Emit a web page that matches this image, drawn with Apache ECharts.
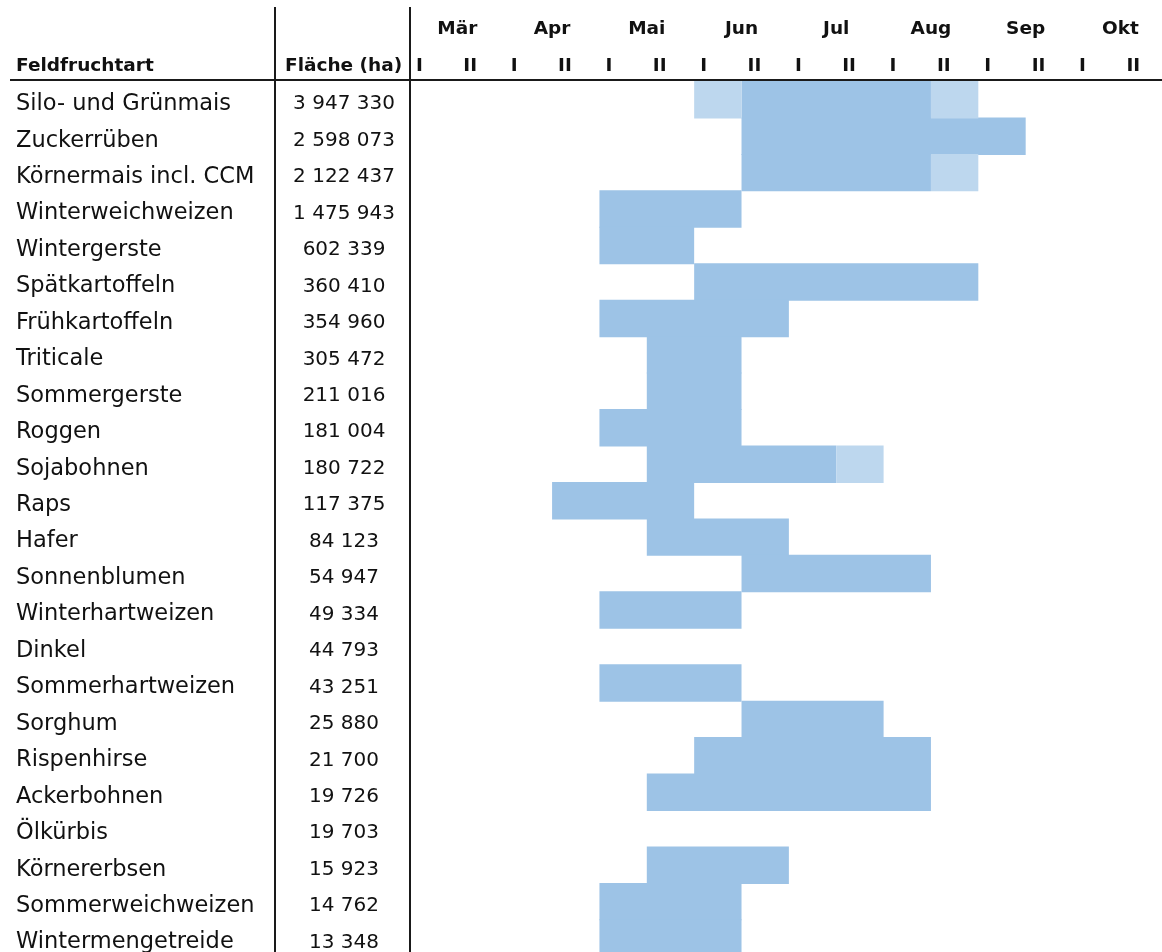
<!DOCTYPE html>
<html lang="de">
<head>
<meta charset="utf-8">
<title>Erntezeiträume der Feldfruchtarten</title>
<script src="https://cdn.jsdelivr.net/npm/echarts@6/dist/echarts.min.js"></script>
<style>
  html, body { margin: 0; padding: 0; background: #ffffff; }
  #chart { width: 1162px; height: 952px; }
</style>
</head>
<body>
<div id="chart"></div>
<script>
// Feldfruchtarten, sortiert nach Anbaufläche
const fieldCrops = [
  'Silo- und Grünmais', 'Zuckerrüben', 'Körnermais incl. CCM', 'Winterweichweizen',
  'Wintergerste', 'Spätkartoffeln', 'Frühkartoffeln', 'Triticale', 'Sommergerste',
  'Roggen', 'Sojabohnen', 'Raps', 'Hafer', 'Sonnenblumen', 'Winterhartweizen',
  'Dinkel', 'Sommerhartweizen', 'Sorghum', 'Rispenhirse', 'Ackerbohnen', 'Ölkürbis',
  'Körnererbsen', 'Sommerweichweizen', 'Wintermengetreide'
];
// Anbaufläche in Hektar
const areaHa = [
  3947330, 2598073, 2122437, 1475943, 602339, 360410, 354960, 305472, 211016,
  181004, 180722, 117375, 84123, 54947, 49334, 44793, 43251, 25880, 21700,
  19726, 19703, 15923, 14762, 13348
];
// Monate und Monatshälften der Zeitachse
const months = ['Mär', 'Apr', 'Mai', 'Jun', 'Jul', 'Aug', 'Sep', 'Okt'];
const halfLabels = ['I', 'II'];

// Haupternte: Monatshälften ab März I (= 0), Beginn inklusive, Ende exklusive
const harvestFrom = [7, 7, 7, 4, 4, 6, 4, 5, 5, 4, 5, 3, 5, 7, 4, null, 4, 7, 6, 5, null, 5, 4, 4];
const harvestTo   = [11, 13, 11, 7, 6, 12, 8, 7, 7, 7, 9, 6, 8, 11, 7, null, 7, 10, 11, 11, null, 8, 7, 7];
// Randzeiten der Ernte: [Feldfrucht, Beginn, Ende]
const marginalHarvest = [[0, 6, 7], [0, 11, 12], [2, 11, 12], [10, 9, 10]];

const MAIN_COLOR = '#9DC3E6';
const MARGINAL_COLOR = '#BDD7EE';
const TEXT_COLOR = '#111111';
const FONT = '"DejaVu Sans", Verdana, sans-serif';

const fmtHa = v => String(v).replace(/\B(?=(\d{3})+(?!\d))/g, ' ');

const harvestData = [];
fieldCrops.forEach((name, i) => {
  if (harvestFrom[i] != null) harvestData.push([harvestFrom[i], harvestTo[i], i, 0]);
});
marginalHarvest.forEach(([i, from, to]) => harvestData.push([from, to, i, 1]));

// one filled cell block per harvest window; a 1px overlap downwards avoids seams between rows
function renderWindow(params, api) {
  const from = api.value(0), to = api.value(1), row = api.value(2), kind = api.value(3);
  const p0 = api.coord([from, row]);
  const p1 = api.coord([to, row]);
  const h = api.size([0, 1])[1];
  return {
    type: 'rect',
    shape: { x: p0[0], y: p0[1] - h / 2, width: p1[0] - p0[0], height: h + 1 },
    style: { fill: kind === 1 ? MARGINAL_COLOR : MAIN_COLOR }
  };
}

const chart = echarts.init(document.getElementById('chart'), null, { renderer: 'canvas' });

const GRID_LEFT = 410, GRID_TOP = 81, HALF_W = 47.36, ROW_H = 36.45;
const headerStyle = { fontFamily: FONT, fontSize: 18.5, fontWeight: 'bold', color: TEXT_COLOR };

chart.setOption({
  animation: false,
  backgroundColor: '#ffffff',
  textStyle: { fontFamily: FONT },
  title: [
    { text: 'Feldfruchtart', left: 16, top: 57, padding: 0, textStyle: headerStyle },
    { text: 'Fläche (ha)', left: 285, top: 57, padding: 0, textStyle: headerStyle }
  ],
  grid: {
    left: GRID_LEFT, top: GRID_TOP,
    width: HALF_W * 16, height: ROW_H * fieldCrops.length,
    containLabel: false, outerBoundsMode: 'none'
  },
  xAxis: [
    {
      type: 'value', position: 'top', min: 0, max: 16, interval: 1,
      axisLine: { show: false }, axisTick: { show: false }, splitLine: { show: false },
      axisLabel: {
        margin: 5, align: 'left', padding: [0, 0, 0, 6],
        fontFamily: FONT, fontSize: 18.5, fontWeight: 'bold', color: TEXT_COLOR,
        formatter: v => (v >= 16 ? '' : halfLabels[v % 2])
      }
    },
    {
      type: 'category', position: 'top', data: months, boundaryGap: true,
      axisLine: { show: false }, axisTick: { show: false }, splitLine: { show: false },
      axisLabel: {
        margin: 42, interval: 0,
        fontFamily: FONT, fontSize: 18.5, fontWeight: 'bold', color: TEXT_COLOR
      }
    }
  ],
  yAxis: [
    {
      type: 'category', data: fieldCrops, inverse: true, position: 'left',
      axisLine: { show: false }, axisTick: { show: false }, splitLine: { show: false },
      axisLabel: {
        interval: 0, align: 'left', verticalAlign: 'top', lineHeight: 10,
        margin: GRID_LEFT - 16,
        fontFamily: FONT, fontSize: 22.5, color: TEXT_COLOR
      }
    },
    {
      type: 'category', data: areaHa.map(fmtHa), inverse: true, position: 'left', offset: 0,
      axisLine: { show: false }, axisTick: { show: false }, splitLine: { show: false },
      axisLabel: {
        interval: 0, align: 'center', verticalAlign: 'top', lineHeight: 10,
        margin: GRID_LEFT - 344,
        fontFamily: FONT, fontSize: 20, color: TEXT_COLOR
      }
    }
  ],
  graphic: [
    { type: 'line', shape: { x1: 10, y1: 80, x2: 1162, y2: 80 }, style: { stroke: '#1a1a1a', lineWidth: 2 }, z: 10 },
    { type: 'line', shape: { x1: 275, y1: 7, x2: 275, y2: 952 }, style: { stroke: '#1a1a1a', lineWidth: 2 }, z: 10 },
    { type: 'line', shape: { x1: 410, y1: 7, x2: 410, y2: 952 }, style: { stroke: '#1a1a1a', lineWidth: 2 }, z: 10 }
  ],
  series: [
    {
      type: 'custom',
      xAxisIndex: 0, yAxisIndex: 0,
      renderItem: renderWindow,
      encode: { x: [0, 1], y: 2 },
      data: harvestData,
      clip: false
    }
  ]
});
</script>
</body>
</html>
